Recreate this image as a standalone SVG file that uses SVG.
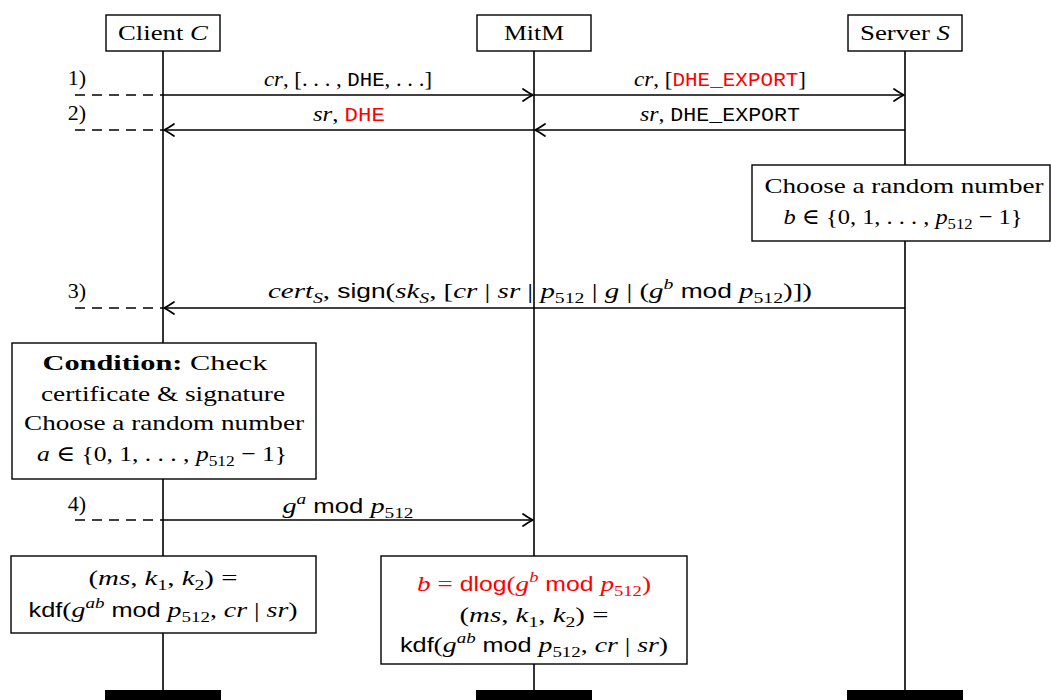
<svg xmlns="http://www.w3.org/2000/svg" width="1051" height="700" viewBox="0 0 1051 700">
<style>
text{font-family:"Liberation Serif","DejaVu Serif",serif;font-size:22px;fill:#000;text-anchor:middle}
.i{font-style:italic}
.s{font-family:"Liberation Sans","DejaVu Sans",sans-serif;font-size:20px}
.m{font-family:"Liberation Mono","DejaVu Sans Mono",monospace;font-size:20px}
.r{fill:#ff0000}
.sb{font-size:15px}
.box{fill:#fff;stroke:#000;stroke-width:1.4}
.life{stroke:#000;stroke-width:1.6;fill:none}
.msg{stroke:#000;stroke-width:1.4;fill:none;marker-end:url(#ah)}
.dash{stroke:#000;stroke-width:1.4;stroke-dasharray:10,7;fill:none}
.bar{fill:#000}
</style>
<defs>
<marker id="ah" markerUnits="userSpaceOnUse" markerWidth="16" markerHeight="16" viewBox="-13 -8 16 16" refX="0" refY="0" orient="auto">
<path d="M-10,-6 Q-3.5,-1.5 0,0 Q-3.5,1.5 -10,6" fill="none" stroke="#000" stroke-width="1.7" stroke-linecap="round" stroke-linejoin="round"/>
</marker>
</defs>
<rect width="1051" height="700" fill="#fff"/>

<g id="lifelines">
<line class="life" x1="163" y1="51" x2="163" y2="690"/>
<line class="life" x1="534" y1="51" x2="534" y2="690"/>
<line class="life" x1="905" y1="51" x2="905" y2="690"/>
</g>

<g id="client">
<rect class="box" x="106" y="15" width="114" height="36"/>
<text x="163" y="40" textLength="90" lengthAdjust="spacingAndGlyphs">Client <tspan class="i">C</tspan></text>
<rect class="bar" x="105" y="690" width="116" height="10"/>
</g>
<g id="mitm">
<rect class="box" x="477" y="15" width="114" height="36"/>
<text x="534" y="40" textLength="60" lengthAdjust="spacingAndGlyphs">MitM</text>
<rect class="bar" x="476" y="690" width="116" height="10"/>
</g>
<g id="server">
<rect class="box" x="848" y="15" width="114" height="36"/>
<text x="905" y="40" textLength="90" lengthAdjust="spacingAndGlyphs">Server <tspan class="i">S</tspan></text>
<rect class="bar" x="847" y="690" width="116" height="10"/>
</g>

<g id="connectors">
<line class="dash" x1="75" y1="95" x2="163" y2="95"/>
<line class="msg" x1="163" y1="95" x2="533" y2="95"/>
<line class="msg" x1="534" y1="95" x2="904" y2="95"/>
<line class="dash" x1="75" y1="130" x2="163" y2="130"/>
<line class="msg" x1="905" y1="130" x2="535" y2="130"/>
<line class="msg" x1="534" y1="130" x2="164" y2="130"/>
<line class="dash" x1="75" y1="308" x2="163" y2="308"/>
<line class="msg" x1="905" y1="308" x2="164" y2="308"/>
<line class="dash" x1="75" y1="520" x2="163" y2="520"/>
<line class="msg" x1="163" y1="520" x2="533" y2="520"/>
</g>

<g id="labels">
<text x="77" y="85">1)</text>
<text x="77" y="120">2)</text>
<text x="77" y="298">3)</text>
<text x="77" y="511">4)</text>
<text x="348" y="86" textLength="168" lengthAdjust="spacingAndGlyphs"><tspan class="i">cr</tspan>, [. . . , <tspan class="m">DHE</tspan>, . . .]</text>
<text x="720" y="86" textLength="172" lengthAdjust="spacingAndGlyphs"><tspan class="i">cr</tspan>, [<tspan class="m r">DHE_EXPORT</tspan>]</text>
<text x="349" y="121" textLength="72" lengthAdjust="spacingAndGlyphs"><tspan class="i">sr</tspan>, <tspan class="m r">DHE</tspan></text>
<text x="720" y="121" textLength="160" lengthAdjust="spacingAndGlyphs"><tspan class="i">sr</tspan>, <tspan class="m">DHE_EXPORT</tspan></text>
<text x="540" y="298" textLength="544" lengthAdjust="spacingAndGlyphs"><tspan class="i">cert</tspan><tspan class="i sb" dy="5">S</tspan><tspan dy="-5">,  </tspan><tspan class="s">sign</tspan>(<tspan class="i">sk</tspan><tspan class="i sb" dy="5">S</tspan><tspan dy="-5">, [</tspan><tspan class="i">cr</tspan> | <tspan class="i">sr</tspan> | <tspan class="i">p</tspan><tspan class="sb" dy="5">512</tspan><tspan dy="-5"> | </tspan><tspan class="i">g</tspan> | (<tspan class="i">g</tspan><tspan class="i sb" dy="-9">b</tspan><tspan dy="9"> </tspan><tspan class="s">mod</tspan> <tspan class="i">p</tspan><tspan class="sb" dy="5">512</tspan><tspan dy="-5">)])</tspan></text>
<text x="348" y="513" textLength="131" lengthAdjust="spacingAndGlyphs"><tspan class="i">g</tspan><tspan class="i sb" dy="-9">a</tspan><tspan dy="9"> </tspan><tspan class="s">mod</tspan> <tspan class="i">p</tspan><tspan class="sb" dy="5">512</tspan></text>
</g>

<g id="server-choose">
<rect class="box" x="752" y="165" width="298" height="76"/>
<text x="904" y="193" textLength="279" lengthAdjust="spacingAndGlyphs">Choose a random number</text>
<text x="903" y="224" textLength="239" lengthAdjust="spacingAndGlyphs"><tspan class="i">b</tspan> ∈ {0, 1, . . . , <tspan class="i">p</tspan><tspan class="sb" dy="5">512</tspan><tspan dy="-5"> − 1}</tspan></text>
</g>

<g id="client-condition">
<rect class="box" x="12" y="343" width="304" height="136"/>
<text x="155" y="370" textLength="225" lengthAdjust="spacingAndGlyphs"><tspan font-weight="bold">Condition:</tspan> Check</text>
<text x="163" y="401" textLength="244" lengthAdjust="spacingAndGlyphs">certificate &amp; signature</text>
<text x="164" y="430" textLength="280" lengthAdjust="spacingAndGlyphs">Choose a random number</text>
<text x="162" y="461" textLength="250" lengthAdjust="spacingAndGlyphs"><tspan class="i">a</tspan> ∈ {0, 1, . . . , <tspan class="i">p</tspan><tspan class="sb" dy="5">512</tspan><tspan dy="-5"> − 1}</tspan></text>
</g>

<g id="client-kdf">
<rect class="box" x="11" y="556" width="305" height="77"/>
<text x="163" y="585" textLength="149" lengthAdjust="spacingAndGlyphs">(<tspan class="i">ms</tspan>, <tspan class="i">k</tspan><tspan class="sb" dy="5">1</tspan><tspan dy="-5">, </tspan><tspan class="i">k</tspan><tspan class="sb" dy="5">2</tspan><tspan dy="-5">) =</tspan></text>
<text x="163" y="617" textLength="269" lengthAdjust="spacingAndGlyphs"><tspan class="s">kdf</tspan>(<tspan class="i">g</tspan><tspan class="i sb" dy="-9">ab</tspan><tspan dy="9"> </tspan><tspan class="s">mod</tspan> <tspan class="i">p</tspan><tspan class="sb" dy="5">512</tspan><tspan dy="-5">, </tspan><tspan class="i">cr</tspan> | <tspan class="i">sr</tspan>)</text>
</g>

<g id="mitm-dlog">
<rect class="box" x="381" y="556" width="306" height="108"/>
<text x="534" y="591" textLength="234" lengthAdjust="spacingAndGlyphs" class="r"><tspan class="i r">b</tspan> = <tspan class="s r">dlog</tspan>(<tspan class="i r">g</tspan><tspan class="i sb r" dy="-9">b</tspan><tspan dy="9"> </tspan><tspan class="s r">mod</tspan> <tspan class="i r">p</tspan><tspan class="sb r" dy="5">512</tspan><tspan class="r" dy="-5">)</tspan></text>
<text x="534" y="622" textLength="149" lengthAdjust="spacingAndGlyphs">(<tspan class="i">ms</tspan>, <tspan class="i">k</tspan><tspan class="sb" dy="5">1</tspan><tspan dy="-5">, </tspan><tspan class="i">k</tspan><tspan class="sb" dy="5">2</tspan><tspan dy="-5">) =</tspan></text>
<text x="534" y="652" textLength="268" lengthAdjust="spacingAndGlyphs"><tspan class="s">kdf</tspan>(<tspan class="i">g</tspan><tspan class="i sb" dy="-9">ab</tspan><tspan dy="9"> </tspan><tspan class="s">mod</tspan> <tspan class="i">p</tspan><tspan class="sb" dy="5">512</tspan><tspan dy="-5">, </tspan><tspan class="i">cr</tspan> | <tspan class="i">sr</tspan>)</text>
</g>
</svg>
